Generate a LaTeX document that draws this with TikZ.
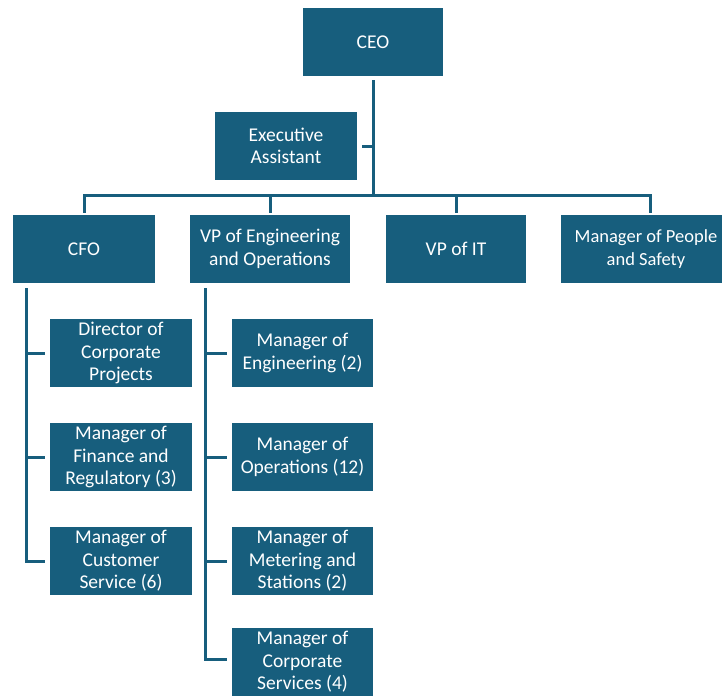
\documentclass[tikz,border=0pt]{standalone}
\usepackage{fontspec}
\setmainfont{Carlito}
\definecolor{orgblue}{RGB}{23,94,125}

\begin{document}
\begin{tikzpicture}[x=1pt, y=-1pt]
    \tikzstyle{post}=[rectangle, fill=orgblue, text=white, minimum height=68pt, inner sep=0pt, align=center, font=\fontsize{19.5}{22.5}\selectfont]
    \tikzstyle{link}=[draw=orgblue, line width=3pt]
    \useasboundingbox (0,0) rectangle (722,696);
    \clip (0,0) rectangle (722,696);

    % top of the chart
    \node[post, minimum width=140pt] (ceo) at (373,42) {CEO};
    \node[post, minimum width=142pt] (ea) at (286,146) {Executive\\Assistant};

    % second level
    \node[post, minimum width=142pt] (cfo) at (84,249) {CFO};
    \node[post, minimum width=160pt] (vpe) at (270,249) {VP of Engineering\\and Operations};
    \node[post, minimum width=140pt] (vpit) at (456,249) {VP of IT};
    \node[post, minimum width=170pt, font=\fontsize{18.5}{22.5}\selectfont] (mps) at (646,249) {Manager of People\\and Safety};

    % under the CFO
    \node[post, minimum width=142pt] (dcp) at (121,353) {Director of\\Corporate\\Projects};
    \node[post, minimum width=142pt] (mfr) at (121,457) {Manager of\\Finance and\\Regulatory (3)};
    \node[post, minimum width=142pt] (mcs) at (121,561) {Manager of\\Customer\\Service (6)};

    % under the VP of Engineering and Operations
    \node[post, minimum width=141pt] (men) at (302.5,353) {Manager of\\Engineering (2)};
    \node[post, minimum width=141pt] (mop) at (302.5,457) {Manager of\\Operations (12)};
    \node[post, minimum width=141pt] (mms) at (302.5,561) {Manager of\\Metering and\\Stations (2)};
    \node[post, minimum width=141pt] (mcsv) at (302.5,662) {Manager of\\Corporate\\Services (4)};

    \coordinate (bus) at (373,195);
    \coordinate (cfoline) at (26,288);
    \coordinate (vpeline) at (205,288);

    \draw[link, shorten <=4pt] (ceo.south) -- (bus);
    \draw[link, shorten <=5pt] (ea.east) -- (ea.east -| bus);
    \foreach \n in {cfo,vpe,vpit} {
        \draw[link, shorten >=2pt] (bus) -| (\n.north);
    }
    \draw[link, shorten >=2pt] (bus) -| ([xshift=4pt]mps.north);
    \foreach \n in {dcp,mfr,mcs} {
        \draw[link, shorten >=5pt] (cfoline) |- (\n.west);
    }
    \foreach \n in {men,mop,mms} {
        \draw[link, shorten >=5pt] (vpeline) |- (\n.west);
    }
    \draw[link, shorten >=5pt] (vpeline) |- ([yshift=3pt]mcsv.west);
\end{tikzpicture}
\end{document}
